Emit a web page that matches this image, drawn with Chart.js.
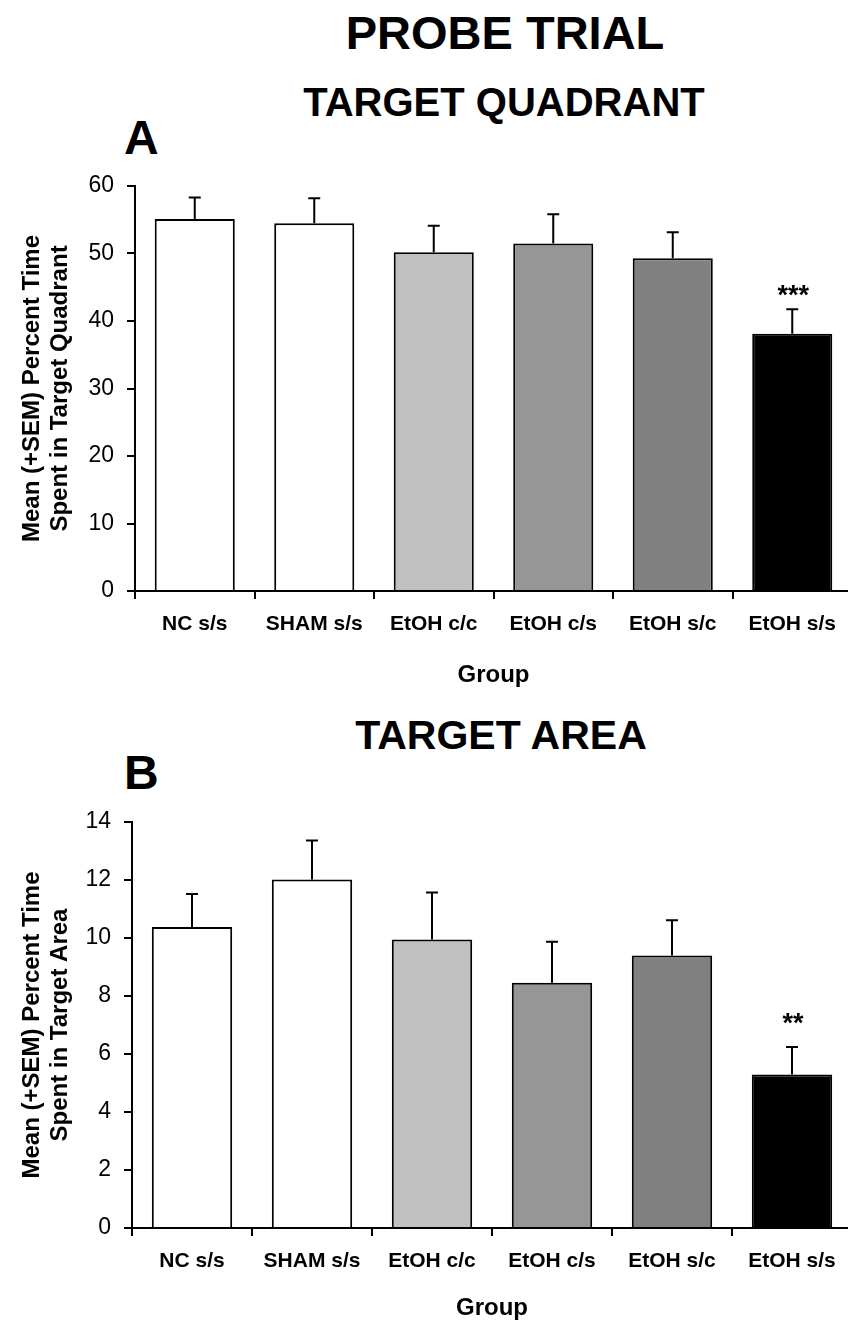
<!DOCTYPE html>
<html>
<head>
<meta charset="utf-8">
<script src="https://cdn.jsdelivr.net/npm/chart.js@4.4.1/dist/chart.umd.min.js"></script>
<style>
  html, body { margin: 0; padding: 0; background: #fff; overflow: hidden; width: 848px; height: 1326px; }
  body { position: relative; font-family: 'Liberation Sans', Arial, sans-serif; }
  .t { position: absolute; font-weight: bold; color: #000; line-height: 1; white-space: nowrap; }
  .box { position: absolute; left: 0; width: 856px; }
</style>
</head>
<body>
<div class="t" id="t1" style="font-size:47px; top:9px; left:0; width:1010px; text-align:center;">PROBE TRIAL</div>
<div class="t" id="t2" style="font-size:40px; top:82px; left:0; width:1008px; text-align:center;">TARGET QUADRANT</div>
<div class="t" style="font-size:48px; top:114px; left:124px;">A</div>
<div class="t" id="t3" style="font-size:41px; top:715px; left:0; width:1002px; text-align:center;">TARGET AREA</div>
<div class="t" style="font-size:48px; top:749px; left:124px;">B</div>

<div class="box" style="top:150px; height:560px;"><canvas id="c1"></canvas></div>
<div class="box" style="top:786px; height:540px;"><canvas id="c2"></canvas></div>

<script>
// ---- data ----
const categories = ['NC s/s', 'SHAM s/s', 'EtOH c/c', 'EtOH c/s', 'EtOH s/c', 'EtOH s/s'];
const quadMeans = [55.1, 54.5, 50.2, 51.5, 49.3, 38.1];
const quadSem   = [3.2, 3.7, 3.9, 4.3, 3.85, 3.65];
const quadStars = ['', '', '', '', '', '***'];
const quadStarLevel = [null, null, null, null, null, 44.3];
const quadTicks = [0, 10, 20, 30, 40, 50, 60];

const areaMeans = [10.38, 12.02, 9.95, 8.46, 9.40, 5.29];
const areaSem   = [1.14, 1.34, 1.62, 1.41, 1.21, 0.95];
const areaStars = ['', '', '', '', '', '**'];
const areaStarLevel = [null, null, null, null, null, 7.17];
const areaTicks = [0, 2, 4, 6, 8, 10, 12, 14];

const barColors = ['#ffffff', '#ffffff', '#c0c0c0', '#969696', '#808080', '#000000'];

const FONT = "'Liberation Sans', Arial, sans-serif";

const errorBarPlugin = {
  id: 'errorBars',
  afterDatasetsDraw(chart, args, opts) {
    const ctx = chart.ctx;
    const meta = chart.getDatasetMeta(0);
    const ys = chart.scales.y;
    ctx.save();
    ctx.strokeStyle = '#000';
    ctx.lineWidth = 2;
    meta.data.forEach((bar, i) => {
      const v = opts.means[i], e = opts.sem[i];
      const x = bar.x;
      const y0 = ys.getPixelForValue(v);
      const y1 = ys.getPixelForValue(v + e);
      ctx.beginPath();
      ctx.moveTo(x, y0);
      ctx.lineTo(x, y1);
      ctx.moveTo(x - 6, y1);
      ctx.lineTo(x + 6, y1);
      ctx.stroke();
      if (opts.stars[i]) {
        const fs = 27;
        ctx.fillStyle = '#000';
        ctx.font = 'bold ' + fs + 'px ' + FONT;
        ctx.textAlign = 'center';
        ctx.textBaseline = 'alphabetic';
        const sy = ys.getPixelForValue(opts.starLevel[i]);
        ctx.fillText(opts.stars[i], x + 1, sy + 0.46 * fs);
      }
    });
    ctx.restore();
  }
};

function makeChart(id, means, sem, stars, starLevel, ticks, yTitle, yWidth, xHeight, groupPad) {
  return new Chart(document.getElementById(id), {
    type: 'bar',
    data: {
      labels: categories,
      datasets: [{
        data: means,
        backgroundColor: barColors,
        borderColor: '#000',
        borderWidth: 2,
        barPercentage: 0.67,
        categoryPercentage: 1.0
      }]
    },
    plugins: [errorBarPlugin],
    options: {
      responsive: true,
      maintainAspectRatio: false,
      animation: false,
      events: [],
      layout: { padding: { top: 36, right: 4, left: 0, bottom: 0 } },
      plugins: {
        legend: { display: false },
        tooltip: { enabled: false },
        errorBars: { means: means, sem: sem, stars: stars, starLevel: starLevel }
      },
      scales: {
        x: {
          z: 1,
          grid: { display: true, drawOnChartArea: false, drawTicks: true, tickLength: 8, color: '#000', lineWidth: 2, offset: true },
          border: { display: true, color: '#000', width: 2 },
          ticks: { color: '#000', font: { family: FONT, size: 21, weight: 'bold', lineHeight: 1.2 }, padding: 13, maxRotation: 0, autoSkip: false },
          title: { display: true, text: 'Group', color: '#000', font: { family: FONT, size: 24, weight: 'bold', lineHeight: 1.2 }, padding: { top: 0, bottom: groupPad } },
          afterFit(scale) { scale.height = xHeight; }
        },
        y: {
          z: 1,
          min: ticks[0],
          max: ticks[ticks.length - 1],
          afterBuildTicks(scale) { scale.ticks = ticks.map(v => ({ value: v })); },
          grid: { display: true, drawOnChartArea: false, drawTicks: true, tickLength: 8, color: '#000', lineWidth: 2 },
          border: { display: true, color: '#000', width: 2 },
          ticks: { color: '#000', font: { family: FONT, size: 23, lineHeight: 1.2 }, padding: 13 },
          title: { display: true, text: yTitle, color: '#000', font: { family: FONT, size: 24, weight: 'bold', lineHeight: 28 / 24 }, padding: { top: 18, bottom: 0 } },
          afterFit(scale) { scale.width = yWidth; }
        }
      }
    }
  });
}

makeChart('c1', quadMeans, quadSem, quadStars, quadStarLevel, quadTicks,
  ['Mean (+SEM) Percent Time', 'Spent in Target Quadrant'], 135, 119, 20);
makeChart('c2', areaMeans, areaSem, areaStars, areaStarLevel, areaTicks,
  ['Mean (+SEM) Percent Time', 'Spent in Target Area'], 132, 98, 3);
</script>
</body>
</html>
